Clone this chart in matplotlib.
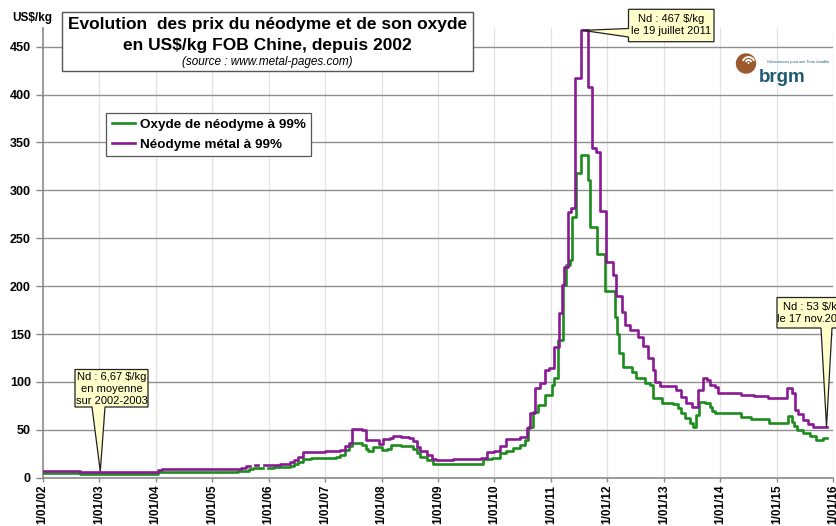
import matplotlib
matplotlib.use("Agg")
import matplotlib.pyplot as plt
import numpy as np
from matplotlib.patches import Polygon, Rectangle, Circle, Arc
from matplotlib.lines import Line2D
from matplotlib.transforms import IdentityTransform

plt.rcParams['font.family'] = ['Liberation Sans', 'DejaVu Sans']

# Weekly price series (decimal year, US$/kg), drawn as steps
oxide_t = [2002.00, 2002.66, 2004.05, 2004.15, 2005.45, 2005.55, 2005.65, 2005.72, 2005.90, 2005.99,
           2006.10, 2006.25, 2006.38, 2006.45, 2006.52, 2006.61, 2006.75, 2007.00, 2007.20, 2007.26,
           2007.35, 2007.42, 2007.47, 2007.65, 2007.72, 2007.76, 2007.85, 2008.00, 2008.10, 2008.17,
           2008.35, 2008.55, 2008.62, 2008.68, 2008.80, 2008.91, 2009.80, 2009.95, 2010.09, 2010.20,
           2010.33, 2010.45, 2010.54, 2010.60, 2010.68, 2010.77, 2010.89, 2011.01, 2011.06, 2011.12,
           2011.21, 2011.27, 2011.33, 2011.38, 2011.44, 2011.54, 2011.66, 2011.70, 2011.82, 2011.96,
           2012.13, 2012.17, 2012.21, 2012.28, 2012.43, 2012.51, 2012.66, 2012.75, 2012.81, 2012.96,
           2013.16, 2013.25, 2013.30, 2013.37, 2013.46, 2013.51, 2013.57, 2013.63, 2013.72, 2013.81,
           2013.86, 2013.90, 2014.37, 2014.55, 2014.87, 2015.20, 2015.26, 2015.30, 2015.35, 2015.46,
           2015.58, 2015.70, 2015.82, 2015.89]
oxide_v = [4.4, 4.2, 5.6, 6.0, 6.5, 7.3, 9.0, 10.4, np.nan, 10.0,
           11.0, 11.5, 12.0, 14.0, 16.0, 20.0, 20.5, 21.0, 22.0, 23.7,
           29.0, 33.0, 36.5, 34.0, 30.0, 28.0, 31.7, 29.0, 30.0, 34.0,
           33.0, 29.6, 26.0, 22.0, 18.0, 14.0, 19.5, 21.0, 25.5, 28.0,
           30.7, 34.0, 39.0, 53.0, 69.0, 76.0, 86.0, 96.8, 103.7, 143.7,
           201.0, 222.0, 227.0, 272.5, 317.7, 337.0, 310.8, 262.0, 234.0, 195.0,
           168.0, 150.0, 130.0, 116.0, 110.7, 103.8, 98.5, 96.8, 83.0, 78.3,
           77.0, 72.4, 68.0, 62.0, 57.4, 52.6, 65.4, 79.3, 78.0, 74.0,
           70.0, 67.9, 63.7, 61.0, 57.4, 64.7, 58.5, 54.0, 49.8, 47.0,
           43.5, 39.4, 41.0, 41.0]

metal_t = [2002.00, 2002.66, 2004.05, 2004.12, 2005.45, 2005.52, 2005.60, 2005.67, 2005.76, 2005.82,
           2005.92, 2006.02, 2006.20, 2006.38, 2006.45, 2006.52, 2006.61, 2007.00, 2007.26, 2007.35,
           2007.42, 2007.47, 2007.65, 2007.73, 2007.95, 2008.02, 2008.15, 2008.20, 2008.35, 2008.48,
           2008.55, 2008.62, 2008.68, 2008.80, 2008.90, 2008.97, 2009.26, 2009.77, 2009.86, 2010.00,
           2010.09, 2010.21, 2010.45, 2010.57, 2010.63, 2010.71, 2010.80, 2010.89, 2010.97, 2011.06,
           2011.14, 2011.19, 2011.24, 2011.30, 2011.36, 2011.42, 2011.54, 2011.65, 2011.66, 2011.72,
           2011.80, 2011.86, 2011.97, 2012.10, 2012.16, 2012.25, 2012.31, 2012.40, 2012.54, 2012.63,
           2012.72, 2012.81, 2012.84, 2012.93, 2013.22, 2013.31, 2013.40, 2013.49, 2013.60, 2013.69,
           2013.76, 2013.82, 2013.90, 2013.96, 2014.37, 2014.60, 2014.84, 2015.18, 2015.26, 2015.32,
           2015.37, 2015.46, 2015.55, 2015.64, 2015.88]
metal_v = [7.3, 6.0, 8.3, 9.0, 9.5, 10.5, 12.0, np.nan, 13.0, np.nan,
           13.0, 13.5, 14.5, 16.7, 19.0, 22.0, 27.0, 28.0, 28.5, 33.0,
           36.0, 50.5, 50.0, 39.0, 35.0, 40.0, 41.0, 43.5, 42.0, 41.0,
           38.0, 32.0, 28.0, 23.7, 20.0, 18.5, 20.0, 21.0, 27.0, 28.0,
           33.0, 40.0, 42.0, 52.0, 67.5, 93.6, 99.0, 112.0, 114.5, 136.7,
           172.0, 201.0, 220.0, 277.7, 281.5, 417.0, 467.0, 430.0, 408.0, 344.0,
           340.0, 278.0, 225.0, 212.0, 190.0, 173.0, 159.0, 154.0, 147.0, 137.0,
           125.0, 112.0, 100.0, 95.7, 91.5, 84.6, 77.6, 73.5, 91.5, 103.7,
           102.0, 96.8, 95.0, 88.0, 86.3, 85.3, 82.8, 94.0, 88.0, 70.7,
           66.0, 60.0, 56.0, 53.0, 53.0]

years = list(range(2002, 2017))
year_labels = ["1/01/%02d" % (y % 100) for y in years]
y_ticks = list(range(0, 451, 50))

series_labels = ["Oxyde de néodyme à 99%", "Néodyme métal à 99%"]
oxide_color = "#1c8c1c"
metal_color = "#8a1a94"

W, H = 837, 526
fig = plt.figure(figsize=(W / 100, H / 100), dpi=100)
fig.patch.set_facecolor("white")

ax_l, ax_r, ax_b, ax_t = 42.7, 833.3, 477.7, 27.5
ax = fig.add_axes([ax_l / W, 1 - ax_b / H, (ax_r - ax_l) / W, (ax_b - ax_t) / H])
ax.set_xlim(2002, 2016)
ax.set_ylim(0, 470)

for s in ("top", "right"):
    ax.spines[s].set_visible(False)
for s in ("left", "bottom"):
    ax.spines[s].set_color("#8a8a8a")
    ax.spines[s].set_linewidth(1.2)

ax.set_yticks(y_ticks)
ax.set_yticklabels([str(v) for v in y_ticks], fontweight="bold", fontsize=9)
ax.set_xticks(years)
ax.set_xticklabels(year_labels, rotation=90, fontweight="bold", fontsize=8.5, va="top")
ax.tick_params(axis="y", length=5, width=1, color="#8a8a8a", pad=3.5)
ax.tick_params(axis="x", length=3, width=1, color="#8a8a8a", pad=2)

for v in y_ticks[1:]:
    ax.axhline(v, color="#8f8f8f", lw=1.0, zorder=1)
for yv in years[1:]:
    ax.axvline(yv, color="#e2e2e2", lw=0.9, zorder=0.5)

ax.plot(oxide_t, oxide_v, drawstyle="steps-post", color=oxide_color, lw=1.9, zorder=3)
ax.plot(metal_t, metal_v, drawstyle="steps-post", color=metal_color, lw=1.9, zorder=4)

# Legend
handles = [Line2D([], [], color=oxide_color, lw=1.9), Line2D([], [], color=metal_color, lw=1.9)]
leg = ax.legend(handles, series_labels, loc="upper left",
                bbox_to_anchor=(106 / W, 1 - 112.7 / H), bbox_transform=fig.transFigure,
                borderaxespad=0, fancybox=False, framealpha=1, edgecolor="#555555",
                prop={"weight": "bold", "size": 9.7}, handlelength=1.7, handletextpad=0.4,
                borderpad=0.42, labelspacing=0.55)
leg.get_frame().set_linewidth(0.9)


def px(x, y):
    """top-left pixel coordinates -> display coordinates"""
    return (x, H - y)


# Title box
fig.add_artist(Rectangle(px(62.3, 70.5), 472.7 - 62.3, 70.5 - 12.3, transform=IdentityTransform(),
                         facecolor="white", edgecolor="#555555", lw=1.0, zorder=10))
cx = (62.3 + 472.7) / 2
fig.text(cx / W, 1 - 24.5 / H, "Evolution  des prix du néodyme et de son oxyde",
         ha="center", va="center", fontsize=12.5, fontweight="bold", zorder=11)
fig.text(cx / W, 1 - 45.5 / H, "en US$/kg FOB Chine, depuis 2002",
         ha="center", va="center", fontsize=12.5, fontweight="bold", zorder=11)
fig.text(cx / W, 1 - 62.5 / H, "(source : www.metal-pages.com)",
         ha="center", va="center", fontsize=8.5, fontstyle="italic", zorder=11)

fig.text(12 / W, 1 - 18.3 / H, "US$/kg", ha="left", va="center", fontsize=8.5, fontweight="bold")


def callout(box, wedge_side, base, tip_data, lines, text_center):
    x0, y0, x1, y1 = box
    tx, ty = ax.transData.transform(tip_data)
    b1, b2 = base
    if wedge_side == "bottom":
        verts = [px(x0, y0), px(x1, y0), px(x1, y1), px(b2, y1), (tx, ty), px(b1, y1), px(x0, y1)]
    else:  # left side
        verts = [px(x0, y0), px(x1, y0), px(x1, y1), px(x0, y1), px(x0, b2), (tx, ty), px(x0, b1)]
    fig.add_artist(Polygon(verts, closed=True, transform=IdentityTransform(),
                           facecolor="#ffffcc", edgecolor="#222222", lw=0.9, zorder=12))
    fig.text(text_center[0] / W, 1 - text_center[1] / H, "\n".join(lines), ha="center",
             va="center", fontsize=8, linespacing=1.25, zorder=13)


callout((628.5, 9.3, 714, 41.7), "left", (28.5, 37), (2011.56, 467),
        ["Nd : 467 $/kg", "le 19 juillet 2011"], (671, 25.5))
callout((75, 369.5, 148, 407), "bottom", (92, 105), (2003.02, 6.67),
        ["Nd : 6,67 $/kg", "en moyenne", "sur 2002-2003"], (111.5, 389))
callout((777, 297.5, 850, 328), "bottom", (821, 832), (2015.88, 53),
        ["Nd : 53 $/kg", "le 17 nov.2015"], (813, 312.5))

# brgm logo
logo_ax = fig.add_axes([0, 0, 1, 1], facecolor="none")
logo_ax.set_xlim(0, W)
logo_ax.set_ylim(H, 0)
logo_ax.set_axis_off()
logo_ax.set_aspect("auto")
logo_ax.add_patch(Circle((746, 63.5), 10.2, facecolor="#9b5a2c", edgecolor="none"))
for r in (3.0, 6.0):
    logo_ax.add_patch(Arc((748.5, 63.0), 2 * r, 2 * r, theta1=200, theta2=340,
                          color="white", lw=1.3))
logo_ax.add_patch(Circle((748.5, 63.0), 1.0, facecolor="white", edgecolor="none"))
logo_ax.text(758.5, 82, "brgm", ha="left", va="baseline", fontsize=13.5, fontweight="bold",
             color="#1d5a74")
logo_ax.text(767, 62.3, "Géosciences pour une Terre durable", ha="left", va="center",
             fontsize=2.8, color="#1d5a74")

fig.savefig("out.png", dpi=100)
